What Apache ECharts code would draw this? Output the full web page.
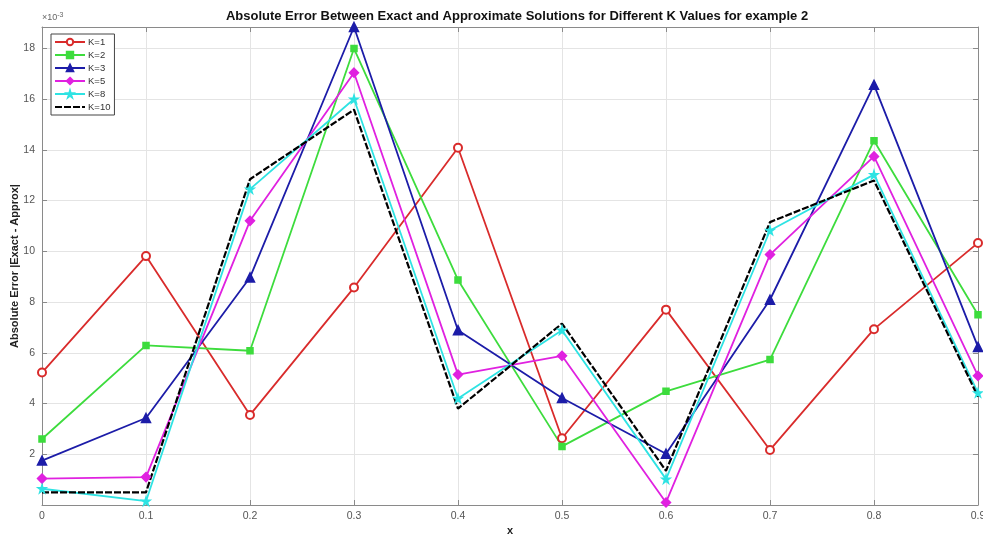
<!DOCTYPE html>
<html>
<head>
<meta charset="utf-8">
<script src="https://cdn.jsdelivr.net/npm/echarts@6/dist/echarts.min.js"></script>
<style>
  html, body { margin: 0; padding: 0; background: #fff; }
  #chart { width: 983px; height: 536px; }
</style>
</head>
<body>
<div id="chart"></div>
<script>
// x positions
const xValues = [0, 0.1, 0.2, 0.3, 0.4, 0.5, 0.6, 0.7, 0.8, 0.9];
// absolute errors, in units of 1e-3
const errK1  = [5.22, 9.81, 3.55, 8.57, 14.08, 2.63, 7.70, 2.17, 6.93, 10.33];
const errK2  = [2.60, 6.29, 6.08, 17.99, 8.87, 2.31, 4.48, 5.73, 14.36, 7.50];
const errK3  = [1.75, 3.43, 8.97, 18.84, 6.89, 4.22, 2.02, 8.09, 16.56, 6.23];
const errK5  = [1.04, 1.10, 11.20, 17.04, 5.14, 5.88, 0.10, 9.87, 13.74, 5.09];
const errK8  = [0.64, 0.15, 12.45, 16.00, 4.20, 6.89, 1.02, 10.82, 13.02, 4.42];
const errK10 = [0.50, 0.50, 12.84, 15.58, 3.80, 7.15, 1.35, 11.15, 12.79, 4.27];
const seriesNames = ['K=1', 'K=2', 'K=3', 'K=5', 'K=8', 'K=10'];
const yTicks = [2, 4, 6, 8, 10, 12, 14, 16, 18];

const pair = arr => xValues.map((x, i) => [x, arr[i]]);
const FONT = 'Liberation Sans';
const starPath = 'path://M50,0 L61,35 L98,35 L68,57 L79,91 L50,70 L21,91 L32,57 L2,35 L39,35 Z';

const chart = echarts.init(document.getElementById('chart'), null, { renderer: 'canvas' });

const mk = (name, data, color, symbol, size, extra) => Object.assign({
  name, type: 'line', data: pair(data), xAxisIndex: 0, yAxisIndex: 0,
  symbol, symbolSize: size, showSymbol: true,
  lineStyle: { color, width: 1.8 },
  itemStyle: { color, borderColor: color, borderWidth: 1.5 },
  emphasis: { disabled: true },
  animation: false, clip: false
}, extra || {});

const yMax = Math.max(...errK1, ...errK2, ...errK3, ...errK5, ...errK8, ...errK10);

const yLabelFmt = v => yTicks.some(t => Math.abs(t - v) < 1e-6) ? String(Math.round(v)) : '';
const gray = '#8a8a8a';

chart.setOption({
  backgroundColor: '#fff',
  animation: false,
  title: {
    text: 'Absolute Error Between Exact and Approximate Solutions for Different K Values for example 2',
    left: 512, top: 5, textAlign: 'center',
    textStyle: { fontFamily: FONT, fontSize: 13, fontWeight: 'bold', color: '#111' }
  },
  grid: { left: 42, right: 5, top: 27, bottom: 31, containLabel: false, outerBoundsMode: 'none' },
  legend: {
    orient: 'vertical', left: 51, top: 34,
    data: seriesNames.map(n => n === 'K=10' ? { name: n, itemStyle: { opacity: 0 } } : n),
    itemWidth: 30, itemHeight: 8, itemGap: 3,
    padding: [3, 4, 3, 3],
    borderColor: '#444', borderWidth: 1, borderRadius: 0,
    backgroundColor: '#fff',
    textStyle: { fontFamily: FONT, fontSize: 9.5, color: '#333', padding: [0, 0, 0, -2] }
  },
  xAxis: [{
    type: 'value', min: 0, max: 0.9, interval: 0.1,
    name: 'x', nameLocation: 'middle', nameGap: 20, nameMoveOverlap: false,
    nameTextStyle: { fontFamily: FONT, fontSize: 11, fontWeight: 'bold', color: '#222' },
    axisLine: { show: true, onZero: false, lineStyle: { color: gray, width: 1 } },
    axisTick: { show: true, inside: true, length: 5, lineStyle: { color: gray } },
    axisLabel: { fontFamily: FONT, fontSize: 10.5, color: '#555', margin: 6,
      formatter: v => String(Number(v.toFixed(1))) },
    splitLine: { show: true, lineStyle: { color: '#e4e4e4', width: 1 } }
  }, {
    type: 'value', min: 0, max: 0.9, interval: 0.1, position: 'top',
    axisLine: { show: true, onZero: false, lineStyle: { color: gray, width: 1 } },
    axisTick: { show: true, inside: true, length: 5, lineStyle: { color: gray } },
    axisLabel: { show: false }, splitLine: { show: false }
  }],
  yAxis: [{
    type: 'value', min: 0, max: yMax, interval: 2,
    name: 'Absolute Error |Exact - Approx|', nameLocation: 'middle', nameGap: 22, nameMoveOverlap: false,
    nameTextStyle: { fontFamily: FONT, fontSize: 11, fontWeight: 'bold', color: '#222' },
    axisLine: { show: true, onZero: false, lineStyle: { color: gray, width: 1 } },
    axisTick: { show: true, inside: true, length: 5, lineStyle: { color: gray } },
    axisLabel: { fontFamily: FONT, fontSize: 10.5, color: '#555', margin: 7, formatter: yLabelFmt },
    splitLine: { show: true, lineStyle: { color: '#e4e4e4', width: 1 } }
  }, {
    type: 'value', min: 0, max: yMax, interval: 2, position: 'right',
    axisLine: { show: true, onZero: false, lineStyle: { color: gray, width: 1 } },
    axisTick: { show: true, inside: true, length: 5, lineStyle: { color: gray } },
    axisLabel: { show: false }, splitLine: { show: false }
  }],
  graphic: [{
    type: 'text', left: 42, top: 12,
    style: {
      text: '{a|×10}{b|-3}',
      rich: {
        a: { fontFamily: FONT, fontSize: 9, fill: '#666' },
        b: { fontFamily: FONT, fontSize: 7, fill: '#666', verticalAlign: 'top', padding: [0, 0, 5, 0] }
      }
    }
  }],
  series: [
    mk('K=1', errK1, '#d92b2b', 'emptyCircle', 8),
    mk('K=2', errK2, '#3ddc3d', 'rect', 6),
    mk('K=3', errK3, '#1c1ca8', 'triangle', 9),
    mk('K=5', errK5, '#e021e0', 'diamond', 9),
    mk('K=8', errK8, '#2ee3e3', starPath, 8),
    mk('K=10', errK10, '#000000', 'none', 0, { lineStyle: { color: '#000', width: 2.2, type: [7, 2] } })
  ]
});
</script>
</body>
</html>
